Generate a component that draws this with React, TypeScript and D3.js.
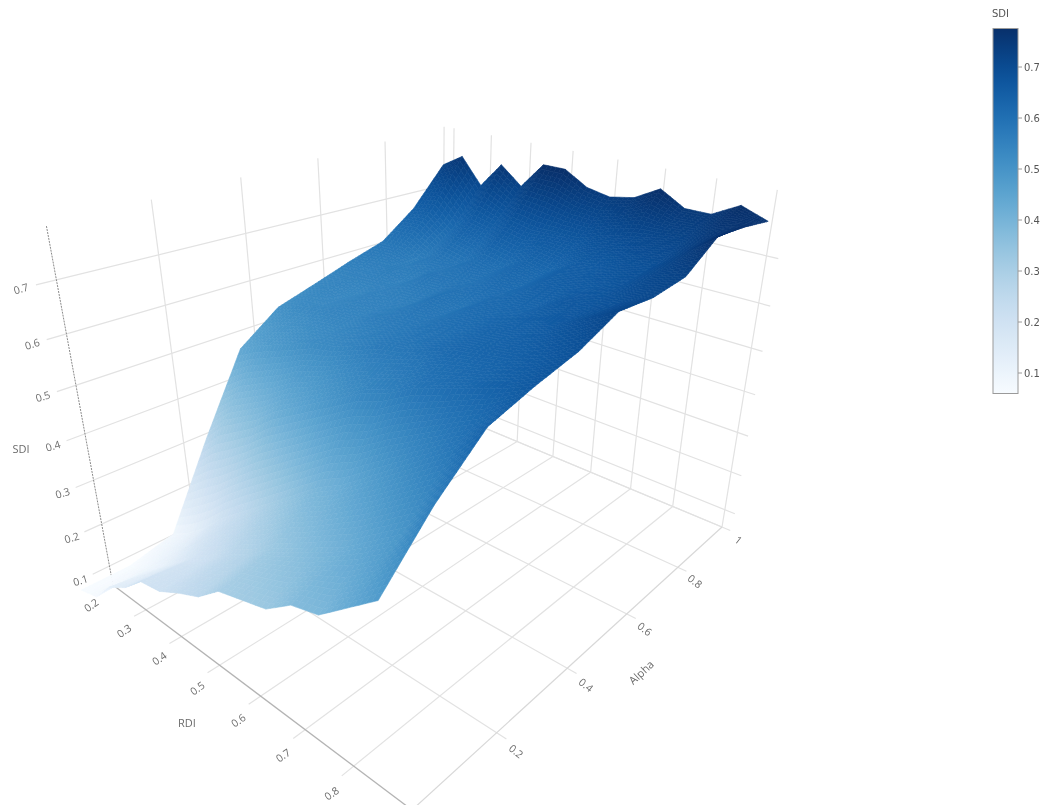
import React from 'react';
import * as d3 from 'd3';

// ---- data ----
const rdi = [0.2,0.25,0.3,0.35,0.4,0.45,0.5,0.55,0.6,0.65,0.7,0.75,0.8,0.85,0.9];
const alpha = [0,0.1,0.2,0.3,0.4,0.5,0.6,0.7,0.8,0.9,1];
const sdiA00 = [.055,.07,.125,.155,.20,.21,.238,.262,.305,.32,.335,.375,.39,.435,.48];
const sdiA01 = [.055,.08,.11,.15,.19,.22,.26,.29,.33,.36,.39,.42,.46,.50,.575];
const sdiA02 = [.08,.11,.15,.20,.24,.28,.32,.36,.40,.43,.47,.51,.55,.59,.65];
const sdiA03 = [.27,.32,.35,.38,.42,.45,.48,.51,.54,.56,.59,.61,.63,.65,.675];
const sdiA04 = [.445,.47,.49,.51,.53,.54,.56,.58,.59,.61,.63,.64,.65,.67,.695];
const sdiA05 = [.51,.53,.54,.55,.55,.57,.58,.59,.61,.62,.64,.65,.67,.70,.73];
const sdiA06 = [.537,.55,.54,.56,.56,.57,.60,.59,.62,.63,.64,.67,.68,.70,.725];
const sdiA07 = [.565,.56,.57,.56,.59,.59,.60,.62,.62,.65,.66,.67,.69,.72,.735];
const sdiA08 = [.59,.59,.57,.60,.59,.62,.61,.64,.63,.66,.67,.69,.70,.74,.785];
const sdiA09 = [.65,.66,.62,.66,.65,.69,.68,.68,.68,.70,.71,.72,.73,.76,.78];
const sdiA10 = [.74,.77,.71,.77,.73,.79,.79,.76,.75,.76,.79,.76,.76,.79,.77];
const sdi = [sdiA00,sdiA01,sdiA02,sdiA03,sdiA04,sdiA05,sdiA06,sdiA07,sdiA08,sdiA09,sdiA10];
const rdiTicks = [0.2,0.3,0.4,0.5,0.6,0.7,0.8];
const alphaTicks = [0.2,0.4,0.6,0.8,1];
const sdiTicks = [0.1,0.2,0.3,0.4,0.5,0.6,0.7];

// ---- camera ----
const F: [number,number][] = [[113,585],[412,810],[722,527],[451,414]];
const tops: [number,number,number,number,number][] = [[0,0,47,228,4],[1,1,778,195,1],[0,1,444,130,1]];
function homog(){const [[x0,y0],[x1,y1],[x2,y2],[x3,y3]]=F;const dx1=x1-x2,dx2=x3-x2,sx=x0-x1+x2-x3,dy1=y1-y2,dy2=y3-y2,sy=y0-y1+y2-y3;const den=dx1*dy2-dx2*dy1;const g=(sx*dy2-dx2*sy)/den,h=(dx1*sy-sx*dy1)/den;return {a:x1-x0+g*x1,b:x3-x0+h*x3,c:x0,d:y1-y0+g*y1,e:y3-y0+h*y3,f:y0,g,h};}
const H = homog();
function solve(A:number[][],b:number[]){const n=b.length;const M=A.map((r,i)=>[...r,b[i]]);for(let i=0;i<n;i++){let p=i;for(let k=i;k<n;k++)if(Math.abs(M[k][i])>Math.abs(M[p][i]))p=k;[M[i],M[p]]=[M[p],M[i]];for(let k=0;k<n;k++)if(k!==i){const f=M[k][i]/M[i][i];for(let j=i;j<=n;j++)M[k][j]-=f*M[i][j];}}return M.map((r,i)=>r[n]/r[i]);}
function pw(){const rows:number[][]=[],rhs:number[]=[];for(const [u,v,X,Y,q] of tops){const w=H.g*u+H.h*v+1,xf=H.a*u+H.b*v+H.c,yf=H.d*u+H.e*v+H.f;rows.push([q,0,-X*q]);rhs.push((X*w-xf)*q);rows.push([0,q,-Y*q]);rhs.push((Y*w-yf)*q);}
const ATA=[0,1,2].map(i=>[0,1,2].map(j=>rows.reduce((s,r)=>s+r[i]*r[j],0)));const ATb=[0,1,2].map(i=>rows.reduce((s,r,k)=>s+r[i]*rhs[k],0));return solve(ATA,ATb);}
const [pa,pb,pc] = pw();
const proj = (u:number,v:number,w:number):[number,number] => {const d=H.g*u+H.h*v+1+pc*w;return [(H.a*u+H.b*v+H.c+pa*w)/d,(H.d*u+H.e*v+H.f+pb*w)/d];};

const U = d3.scaleLinear().domain([0.2,0.91]).range([0,1]);
const W = d3.scaleLinear().domain([0.053,0.795]).range([0,1]);
// where the surface's grid sits inside the axis box
const surfU = d3.scaleLinear().domain([0.2,0.9]).range([U(0.175),U(0.905)]);
const surfV = d3.scaleLinear().domain([0,1]).range([-0.05,0.995]);
const color = d3.scaleSequential(d3.interpolateBlues).domain([0.06,0.785]);

const SUBS = 5, SUBT = 12;
function surfacePolys(){
  const out: {pts:string,fill:string}[] = [];
  const nR = rdi.length, nA = alpha.length;
  for (let i=0;i<nR-1;i++){
    for (let j=nA-2;j>=0;j--){
      for (let a=0;a<SUBS;a++){
        for (let b=SUBT-1;b>=0;b--){
          const zAt=(s:number,t:number)=>(1-s)*(1-t)*sdi[j][i]+s*(1-t)*sdi[j][i+1]+(1-s)*t*sdi[j+1][i]+s*t*sdi[j+1][i+1];
          const pt=(s:number,t:number)=>proj(surfU(rdi[i]+s*(rdi[i+1]-rdi[i])),surfV(alpha[j]+t*(alpha[j+1]-alpha[j])),W(zAt(s,t)));
          const s0=a/SUBS,s1=(a+1)/SUBS,t0=b/SUBT,t1=(b+1)/SUBT;
          const c=color(zAt((s0+s1)/2,(t0+t1)/2));
          out.push({pts:[pt(s0,t0),pt(s1,t0),pt(s1,t1),pt(s0,t1)].map(p=>p[0].toFixed(1)+','+p[1].toFixed(1)).join(' '),fill:c});
        }
      }
    }
  }
  return out;
}
const polys = surfacePolys();

const GRID = '#e2e2e2', TXT = '#6b6b6b';
const L = (a:number[],b:number[],stroke:string,w:number,key:string,dash?:string) => {const p=proj(a[0],a[1],a[2]),q=proj(b[0],b[1],b[2]);return <line key={key} x1={p[0]} y1={p[1]} x2={q[0]} y2={q[1]} stroke={stroke} strokeWidth={w} strokeDasharray={dash}/>;};
const Lab = (p:[number,number],t:string,rot:number,key:string,dy=0) => <text key={key} transform={`translate(${p[0]},${p[1]+dy}) rotate(${rot})`} textAnchor="middle" dominantBaseline="central" fontSize={10.5} fill={TXT}>{t}</text>;

const cbY = d3.scaleLinear().domain([0.1,0.7]).range([373,67]);
const cbStops = d3.range(0,1.0001,0.05);

export default function App(){
  return <svg width={1046} height={805} style={{position:'absolute',left:0,top:0,fontFamily:'"Open Sans",sans-serif',filter:'blur(0.4px)'}}>
    <defs><linearGradient id="cb" x1="0" y1="1" x2="0" y2="0">{cbStops.map(t=><stop key={t} offset={t} stopColor={d3.interpolateBlues(t)}/>)}</linearGradient></defs>
    <g>
      {rdiTicks.filter(r=>r>0.2).map(r=>L([U(r),-0.025,0],[U(r),1,0],GRID,1.2,'fr'+r))}
      {[...rdiTicks,0.91].map(r=>L([U(r),1,0],[U(r),1,1.05],GRID,1.2,'wr'+r))}
      {L([U(0.2),-0.025,0],[U(0.2),0,0],GRID,1.2,'fr0')}
      {alphaTicks.map(a=>L([0,a,0],[1.025,a,0],GRID,1.2,'fa'+a))}
      {alphaTicks.map(a=>L([0,a*0.965,0],[0,a*0.965,1+0.06*a],GRID,1.2,'wa'+a))}
      {sdiTicks.map(z=>L([0,-0.035,W(z)],[0,1,W(z)],GRID,1.2,'zl'+z))}
      {sdiTicks.map(z=>L([0,1,W(z)],[1.03,1,W(z)],GRID,1.2,'zb'+z))}
      {L([0,1,0],[1,1,0],GRID,1.2,'e2')}
      {L([0,0,0],[0,1,0],GRID,1.2,'e3')}
      {L([1,0,0],[1,1,0],'#d8d8d8',1.2,'e4')}
      {L([0,0,0],[1,0,0],'#b4b4b4',1.3,'e5')}
      {L([0,0,0],[0,0,1],'#8a8a8a',1,'e6','2 1')}
    </g>
    <g>{polys.map((p,i)=><polygon key={i} points={p.pts} fill={p.fill} stroke={p.fill} strokeWidth={0.6}/>)}</g>
    <g>
      {rdiTicks.map(r=>Lab(proj(U(r),-0.046,0),String(r),-35,'lr'+r,9))}
      {alphaTicks.map(a=>Lab(proj(1.05,a,0),String(a),38,'la'+a,6))}
      {sdiTicks.map(z=>Lab(proj(0,-0.06,W(z)),String(z),-17,'lz'+z))}
      <text x={21} y={453} textAnchor="middle" fontSize={11} fill={TXT}>SDI</text>
      <text x={187} y={727} textAnchor="middle" fontSize={11} fill={TXT}>RDI</text>
      <text transform="translate(641,672) rotate(-43)" textAnchor="middle" dominantBaseline="central" fontSize={11} fill={TXT}>Alpha</text>
    </g>
    <g fontFamily='"DejaVu Sans",sans-serif' fontSize={10} fill="#555">
      <text x={992} y={17}>SDI</text>
      <rect x={993} y={28.5} width={25} height={365} fill="url(#cb)" stroke="#9a9a9a" strokeWidth={1}/>
      {sdiTicks.map(z=><g key={z}><line x1={1018} x2={1022} y1={cbY(z)} y2={cbY(z)} stroke="#9a9a9a"/><text x={1024} y={cbY(z)+3.5}>{z}</text></g>)}
    </g>
  </svg>;
}
